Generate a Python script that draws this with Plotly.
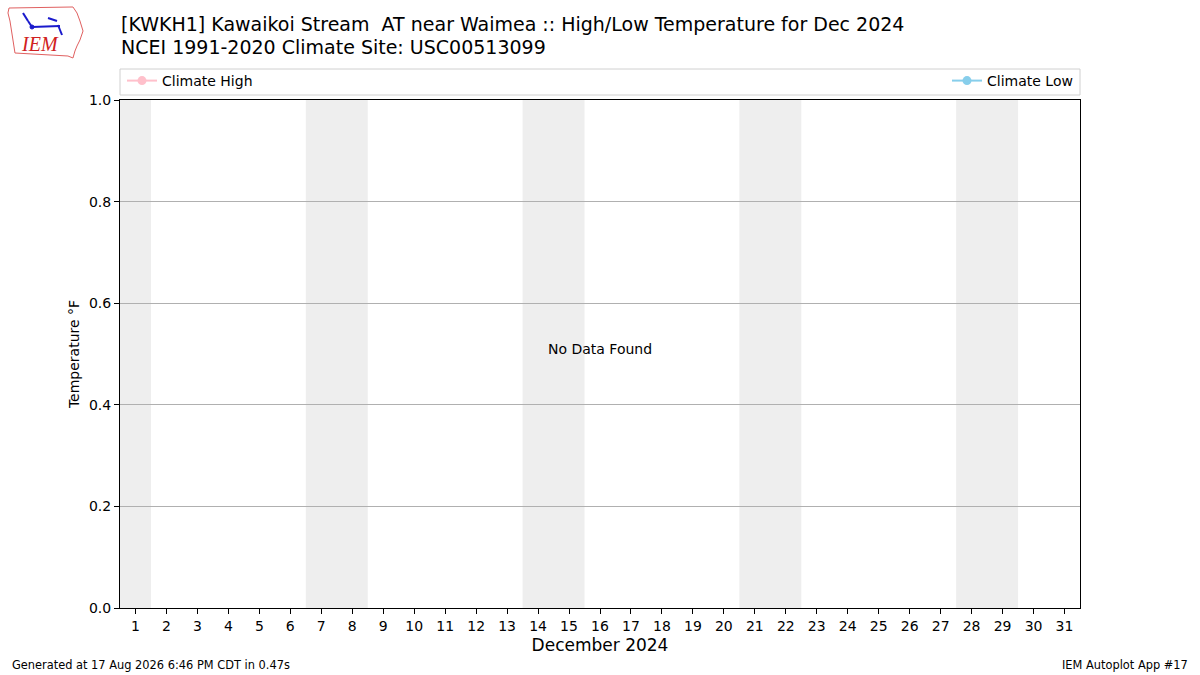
import plotly.graph_objects as go

# Data
days = list(range(1, 32))
weekend_days = [1, 7, 8, 14, 15, 21, 22, 28, 29]
climate_high = [None] * 31
climate_low = [None] * 31
y_ticks = [0.0, 0.2, 0.4, 0.6, 0.8, 1.0]

title_1 = "[KWKH1] Kawaikoi Stream  AT near Waimea :: High/Low Temperature for Dec 2024"
title_2 = "NCEI 1991-2020 Climate Site: USC00513099"

FONT = "DejaVu Sans"

# plot area in pixels
L, R, T, B = 120, 1080, 100, 608


def px(x, y):
    # pixel position -> paper coords
    return (x - L) / (R - L), (B - y) / (B - T)


fig = go.Figure()

fig.add_trace(go.Scatter(
    x=days, y=climate_high, mode="lines+markers", name="Climate High",
    line=dict(color="pink", width=2), marker=dict(color="pink", size=9),
    legend="legend", showlegend=True
))
fig.add_trace(go.Scatter(
    x=days, y=climate_low, mode="lines+markers", name="Climate Low",
    line=dict(color="skyblue", width=2), marker=dict(color="skyblue", size=9),
    legend="legend2", showlegend=True
))

# weekend shading, consecutive days merged into one band
runs = []
for d in weekend_days:
    if runs and d == runs[-1][1] + 1:
        runs[-1][1] = d
    else:
        runs.append([d, d])
for first, last in runs:
    fig.add_shape(type="rect", xref="x", yref="paper", x0=first - 0.5, x1=last + 0.5,
                  y0=0, y1=1, fillcolor="#eeeeee", line=dict(width=0), layer="below")

# legend frame
x0, y0 = px(120, 95)
x1, y1 = px(1080, 69)
fig.add_shape(type="rect", xref="paper", yref="paper", x0=x0, x1=x1, y0=y0, y1=y1,
              line=dict(color="#d0d0d0", width=1), fillcolor="rgba(0,0,0,0)", layer="below")

# logo stand-in: state outline, station glyph, IEM text
outline = [(9, 8), (73, 7), (77, 13), (80, 21), (83, 31), (80, 40), (77, 46),
           (75, 51), (73, 58), (68, 56), (15, 53), (13, 40), (10, 21), (8, 13)]
path = "M " + " L ".join(f"{px(a, b)[0]:.4f},{px(a, b)[1]:.4f}" for a, b in outline) + " Z"
fig.add_shape(type="path", xref="paper", yref="paper", path=path,
              line=dict(color="#e06060", width=1), fillcolor="white")
glyph = [(32, 27, 60, 26), (48, 18, 57, 21), (58, 25, 62, 35), (23, 13, 28, 21), (28, 21, 32, 27)]
for (a0, b0, a1, b1) in glyph:
    p0 = px(a0, b0)
    p1 = px(a1, b1)
    fig.add_shape(type="line", xref="paper", yref="paper", x0=p0[0], y0=p0[1],
                  x1=p1[0], y1=p1[1], line=dict(color="#1a1acc", width=2))
c0 = px(30, 25)
c1 = px(34, 29)
fig.add_shape(type="circle", xref="paper", yref="paper", x0=c0[0], y0=c0[1], x1=c1[0], y1=c1[1],
              line=dict(color="#1a1acc", width=1), fillcolor="#1a1acc")
lx, ly = px(40, 44)
fig.add_annotation(text="<i>IEM</i>", x=lx, y=ly, xref="paper", yref="paper",
                   xanchor="center", yanchor="middle", showarrow=False,
                   font=dict(size=20, color="#d02020", family="Liberation Serif"))

# titles
tx, ty = px(119, 24)
fig.add_annotation(text=title_1, x=tx, y=ty, xref="paper", yref="paper", xanchor="left",
                   yanchor="middle", showarrow=False, font=dict(size=19, family=FONT, color="black"))
tx, ty = px(119, 47)
fig.add_annotation(text=title_2, x=tx, y=ty, xref="paper", yref="paper", xanchor="left",
                   yanchor="middle", showarrow=False, font=dict(size=19, family=FONT, color="black"))

nx, ny = px(600, 349)
fig.add_annotation(text="No Data Found", x=nx, y=ny, xref="paper", yref="paper",
                   xanchor="center", yanchor="middle",
                   showarrow=False, font=dict(size=14, color="black", family=FONT))

fx, fy = px(10, 665)
fig.add_annotation(text="Generated at 17 Aug 2026 6:46 PM CDT in 0.47s",
                   x=fx, y=fy, xref="paper", yref="paper",
                   xanchor="left", yanchor="middle", showarrow=False,
                   font=dict(size=11.4, color="black", family=FONT))
fx, fy = px(1190, 665)
fig.add_annotation(text="IEM Autoplot App #17",
                   x=fx, y=fy, xref="paper", yref="paper",
                   xanchor="right", yanchor="middle", showarrow=False,
                   font=dict(size=11.4, color="black", family=FONT))

lgx1, lgy = px(122, 81)
lgx2, _ = px(1078, 81)
fig.update_layout(
    width=1200, height=675,
    margin=dict(l=L, r=1200 - R, t=T, b=675 - B),
    paper_bgcolor="white", plot_bgcolor="white",
    font=dict(family=FONT, color="black", size=14),
    showlegend=True,
    legend=dict(x=lgx1, xanchor="left", y=lgy, yanchor="middle", orientation="h",
                bgcolor="rgba(0,0,0,0)", font=dict(size=14, family=FONT)),
    legend2=dict(x=lgx2, xanchor="right", y=lgy, yanchor="middle", orientation="h",
                 bgcolor="rgba(0,0,0,0)", font=dict(size=14, family=FONT)),
)

fig.update_xaxes(
    range=[0.5, 31.5], tickmode="array", tickvals=days, ticktext=[str(d) for d in days],
    ticks="outside", ticklen=5, tickcolor="black", showline=True, linecolor="black",
    linewidth=1, mirror=True, showgrid=False, zeroline=False,
    title=dict(text="December 2024", font=dict(size=17, family=FONT), standoff=6),
    tickfont=dict(size=14, family=FONT)
)
fig.update_yaxes(
    range=[0, 1], tickmode="array", tickvals=y_ticks, ticktext=[f"{v:.1f}" for v in y_ticks],
    ticks="outside", ticklen=5, tickcolor="black", showline=True, linecolor="black",
    linewidth=1, mirror=True, showgrid=True, gridcolor="#b0b0b0", gridwidth=1,
    zeroline=False, title=dict(text="Temperature °F", font=dict(size=14, family=FONT), standoff=6),
    tickfont=dict(size=14, family=FONT)
)

fig.write_html("out.html", config={"displayModeBar": False},
               post_script="document.body.style.margin='0';")
